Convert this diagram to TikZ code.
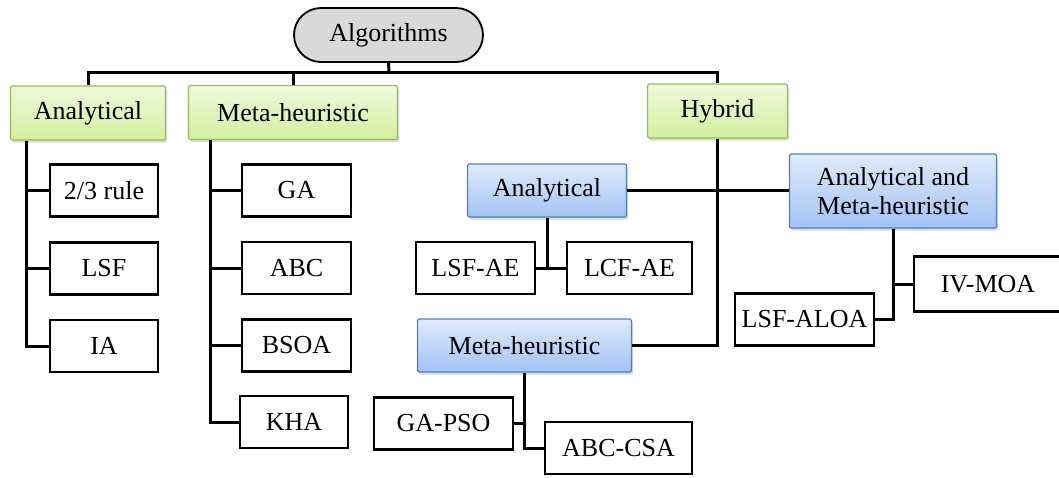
\documentclass[tikz,border=0pt]{standalone}
\usepackage{fontspec}
\setmainfont{Liberation Serif}
\usetikzlibrary{positioning,shadows}

\definecolor{algGray}{HTML}{D9D9D9}
\definecolor{greenTop}{HTML}{EEF8DC}
\definecolor{greenBot}{HTML}{D3F09E}
\definecolor{greenEdge}{HTML}{9BBB59}
\definecolor{blueTop}{HTML}{DFEAFC}
\definecolor{blueBot}{HTML}{A3C2F4}
\definecolor{blueEdge}{HTML}{4F81BD}

\begin{document}
\begin{tikzpicture}[
  x=1pt, y=-1pt,
  every node/.style={
    align=center,
    inner sep=0pt,
    font=\fontsize{26}{29}\selectfont
  },
  algbox/.style={draw, line width=1.8pt, fill=algGray, rounded corners=27pt,
    minimum width=189pt, minimum height=54pt},
  greenbox/.style={draw=greenEdge, line width=1.3pt, top color=greenTop,
    bottom color=greenBot, rounded corners=1.5pt, minimum height=54pt,
    drop shadow={shadow xshift=1.5pt, shadow yshift=-2.5pt, opacity=0.3}},
  bluebox/.style={draw=blueEdge, line width=1.3pt, top color=blueTop,
    bottom color=blueBot, rounded corners=1.5pt, minimum height=53pt,
    drop shadow={shadow xshift=1.5pt, shadow yshift=-2.5pt, opacity=0.3}},
  leafbox/.style={draw, line width=2.8pt, fill=white, minimum height=52pt},
  link/.style={line width=3pt}
]
\useasboundingbox (0,0) rectangle (1059,477);

% levels 0 and 1
\node[algbox] (alg) at (388.5,35) {Algorithms};
\node[greenbox, minimum width=155pt] (anaG)  at (88,113)    {Analytical};
\node[greenbox, minimum width=209pt] (metaG) at (293,112.5) {Meta-heuristic};
\node[greenbox, minimum width=140pt] (hyb)   at (717.5,111) {Hybrid};

% analytical
\node[leafbox, minimum width=108pt] (rule) at (104,190.5) {2/3 rule};
\node[leafbox, minimum width=108pt] (lsf)  at (104,268.5) {LSF};
\node[leafbox, minimum width=108pt] (ia)   at (104,346)   {IA};

% meta-heuristic
\node[leafbox, minimum width=109pt] (ga)   at (296.5,190.5) {GA};
\node[leafbox, minimum width=109pt] (abc)  at (296.5,268)   {ABC};
\node[leafbox, minimum width=109pt] (bsoa) at (296.5,345.5) {BSOA};
\node[leafbox, minimum width=108pt] (kha)  at (294,422)     {KHA};

% hybrid
\node[bluebox, minimum width=159pt] (anaB)  at (547,190.5)  {Analytical};
\node[bluebox, minimum width=207pt, minimum height=74pt] (amB) at (893,191)
  {Analytical and\\Meta-heuristic};
\node[bluebox, minimum width=214pt] (metaB) at (524.5,345.5) {Meta-heuristic};

\node[leafbox, minimum width=119pt] (lsfae)   at (475.5,268) {LSF-AE};
\node[leafbox, minimum width=125pt] (lcfae)   at (629.5,268) {LCF-AE};
\node[leafbox, minimum width=139pt] (gapso)   at (443.5,423.5) {GA-PSO};
\node[leafbox, minimum width=147pt] (abccsa)  at (618.5,448) {ABC-CSA};
\node[leafbox, minimum width=139pt] (lsfaloa) at (804.5,319.5) {LSF-ALOA};
\node[leafbox, minimum width=148pt, minimum height=55pt] (ivmoa) at (988,284) {IV-MOA};

\coordinate (top)      at (389,72);
\coordinate (anaLine)  at (26,0);
\coordinate (metaLine) at (210,0);

\draw[link] (alg.south) -- (top);
\draw[link] (anaG.north) -- (anaG.north |- top) -| (hyb.north);
\draw[link] (metaG.north) -- (metaG.north |- top);

\draw[link] (anaG.south -| anaLine) |- (ia.west);
\foreach \n in {rule,lsf}
  \draw[link] (\n.west) -- (\n.west -| anaLine);
\draw[link] (metaG.south -| metaLine) |- (kha.west);
\foreach \n in {ga,abc,bsoa}
  \draw[link] (\n.west) -- (\n.west -| metaLine);

\draw[link] (hyb.south) |- (metaB.east);
\draw[link] (anaB.east) -- (anaB.east -| amB.west);
\draw[link] (anaB.south) -- (anaB.south |- lsfae.east);
\draw[link] (lsfae.east) -- (lcfae.west);
\draw[link] (metaB.south) |- (abccsa.west);
\draw[link] (gapso.east) -- (gapso.east -| metaB.south);
\draw[link] (amB.south) |- (lsfaloa.east);
\draw[link] (ivmoa.west) -- (ivmoa.west -| amB.south);

\end{tikzpicture}
\end{document}
